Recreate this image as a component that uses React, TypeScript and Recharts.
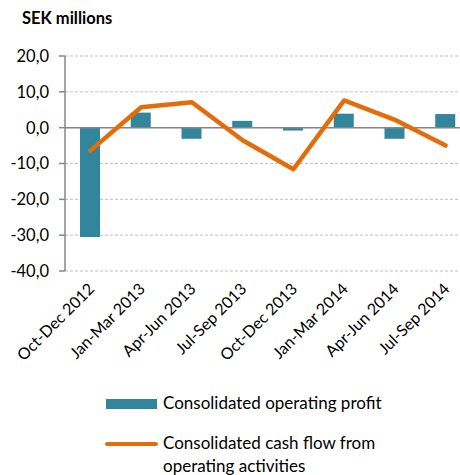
import { ComposedChart, Bar, Line, XAxis, YAxis, CartesianGrid, ReferenceLine } from "recharts";

const PERIODS = [
  "Oct-Dec 2012", "Jan-Mar 2013", "Apr-Jun 2013", "Jul-Sep 2013",
  "Oct-Dec 2013", "Jan-Mar 2014", "Apr-Jun 2014", "Jul-Sep 2014",
];
const OPERATING_PROFIT = [-30.5, 4.2, -3.1, 1.9, -0.8, 3.9, -3.1, 3.8];
const CASH_FLOW = [-6.4, 5.7, 7.1, -3.5, -11.6, 7.6, 2.2, -5.0];
const Y_TICKS = [20, 10, 0, -10, -20, -30, -40];

const TEAL = "#31859c";
const ORANGE = "#e46c0a";
const FONT = "Lato, 'Open Sans', sans-serif";

const data = PERIODS.map((name, i) => ({
  name,
  profit: OPERATING_PROFIT[i],
  cash: CASH_FLOW[i],
}));

const fmt = (v: number) => v.toFixed(1).replace(".", ",");

type TickProps = { x?: number; y?: number; payload?: { value: string } };

function PeriodTick({ x = 0, y = 0, payload }: TickProps) {
  return (
    <g transform={`translate(${x + 5},${y + 11})`}>
      <text transform="rotate(-45)" textAnchor="end" fill="#000" fontSize={16} fontFamily={FONT}>
        {payload?.value}
      </text>
    </g>
  );
}

export default function App() {
  return (
    <div style={{ position: "absolute", left: 0, top: 0, width: 460, height: 475, overflow: "hidden", background: "#fff", fontFamily: FONT }}>
      <div style={{ position: "absolute", left: 22, top: 8, fontSize: 16.5, fontWeight: 700 }}>SEK millions</div>
      <ComposedChart width={472} height={475} data={data} margin={{ top: 56, right: 1, left: 0, bottom: 104 }}>
        <CartesianGrid vertical={false} stroke="#bfbfbf" strokeDasharray="3 2" />
        <XAxis dataKey="name" axisLine={false} tickLine={false} height={100} interval={0} tick={<PeriodTick />} />
        <YAxis
          width={65}
          domain={[-40, 20]}
          ticks={Y_TICKS}
          tickFormatter={fmt}
          stroke="#868686"
          strokeWidth={1.5}
          tickSize={6}
          tickMargin={10}
          tick={{ fill: "#000", fontSize: 16.5, fontFamily: FONT }}
        />
        <ReferenceLine y={0} stroke="#868686" strokeWidth={1.5} />
        <Bar dataKey="profit" fill={TEAL} barSize={20} isAnimationActive={false} />
        <Line dataKey="cash" stroke={ORANGE} strokeWidth={4.5} dot={false} type="linear" strokeLinejoin="round" strokeLinecap="round" isAnimationActive={false} />
      </ComposedChart>
      <div style={{ position: "absolute", left: 106, top: 399, width: 51, height: 10, background: TEAL }} />
      <div style={{ position: "absolute", left: 163, top: 392, fontSize: 17, lineHeight: "22px" }}>Consolidated operating profit</div>
      <div style={{ position: "absolute", left: 105, top: 442, width: 53, height: 4, borderRadius: 2, background: ORANGE }} />
      <div style={{ position: "absolute", left: 163, top: 431, fontSize: 17, lineHeight: "23px" }}>
        Consolidated cash flow from
        <br />
        operating activities
      </div>
    </div>
  );
}
